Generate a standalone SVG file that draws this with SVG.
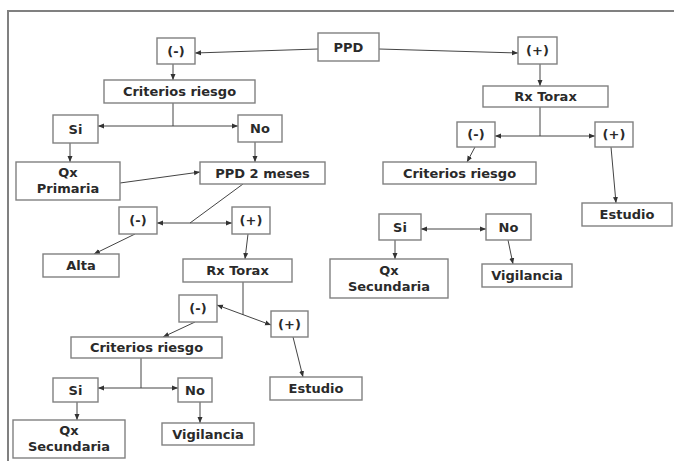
<svg xmlns="http://www.w3.org/2000/svg" width="674" height="461" viewBox="0 0 674 461">
<style>
.b{fill:#fff;stroke:#808080;stroke-width:1.4}
.t{font-family:"DejaVu Sans",sans-serif;font-weight:bold;font-size:13px;fill:#2a2a2a;text-anchor:middle}
.c line{stroke:#444;stroke-width:1}
.fr{stroke:#808080;stroke-width:2;fill:none}
</style>
<defs>
<marker id="a" markerWidth="6" markerHeight="6" refX="6" refY="3" orient="auto-start-reverse" markerUnits="userSpaceOnUse">
<path d="M0,0.5 L6,3 L0,5.5 z" fill="#333"/>
</marker>
</defs>
<rect width="674" height="461" fill="#fff"/>
<path class="fr" d="M8,461 L8,11 L674,11"/>
<g class="c">
<line x1="318" y1="49" x2="195" y2="53" marker-end="url(#a)"/>
<line x1="379" y1="49" x2="518" y2="53" marker-end="url(#a)"/>
<line x1="173" y1="64" x2="173" y2="80" marker-end="url(#a)"/>
<line x1="173" y1="103" x2="173" y2="126"/>
<line x1="98" y1="126" x2="238" y2="126" marker-start="url(#a)" marker-end="url(#a)"/>
<line x1="70" y1="143" x2="70" y2="162" marker-end="url(#a)"/>
<line x1="255" y1="142" x2="255" y2="162" marker-end="url(#a)"/>
<line x1="120" y1="183" x2="200" y2="172" marker-end="url(#a)"/>
<line x1="243" y1="184" x2="190" y2="223"/>
<line x1="157" y1="223" x2="232" y2="223" marker-start="url(#a)" marker-end="url(#a)"/>
<line x1="135" y1="234" x2="94" y2="254" marker-end="url(#a)"/>
<line x1="248" y1="234" x2="245" y2="259" marker-end="url(#a)"/>
<line x1="243" y1="282" x2="243" y2="315"/>
<line x1="217" y1="305" x2="271" y2="325" marker-start="url(#a)" marker-end="url(#a)"/>
<line x1="195" y1="322" x2="163" y2="337" marker-end="url(#a)"/>
<line x1="141" y1="358" x2="141" y2="388"/>
<line x1="98" y1="388" x2="178" y2="388" marker-start="url(#a)" marker-end="url(#a)"/>
<line x1="77" y1="402" x2="77" y2="420" marker-end="url(#a)"/>
<line x1="200" y1="402" x2="200" y2="423" marker-end="url(#a)"/>
<line x1="293" y1="337" x2="303" y2="377" marker-end="url(#a)"/>
<line x1="540" y1="64" x2="540" y2="86" marker-end="url(#a)"/>
<line x1="540" y1="107" x2="540" y2="136"/>
<line x1="495" y1="136" x2="595" y2="136" marker-start="url(#a)" marker-end="url(#a)"/>
<line x1="475" y1="147" x2="467" y2="162" marker-end="url(#a)"/>
<line x1="611" y1="147" x2="616" y2="203" marker-end="url(#a)"/>
<line x1="421" y1="229" x2="486" y2="229" marker-start="url(#a)" marker-end="url(#a)"/>
<line x1="395" y1="240" x2="395" y2="259" marker-end="url(#a)"/>
<line x1="508" y1="240" x2="513" y2="264" marker-end="url(#a)"/>
</g>
<g id="ppd"><rect class="b" x="318" y="33" width="61" height="28"/><text class="t" x="348.5" y="51.5">PPD</text></g>
<g id="negL"><rect class="b" x="157" y="38" width="38" height="26"/><text class="t" x="176" y="55.5">(-)</text></g>
<g id="posR"><rect class="b" x="518" y="37" width="39" height="27"/><text class="t" x="537.5" y="55">(+)</text></g>
<g id="crit1"><rect class="b" x="104" y="80" width="151" height="23"/><text class="t" x="179.5" y="96">Criterios riesgo</text></g>
<g id="si1"><rect class="b" x="53" y="115" width="45" height="28"/><text class="t" x="75.5" y="133.5">Si</text></g>
<g id="no1"><rect class="b" x="238" y="115" width="44" height="27"/><text class="t" x="260" y="133">No</text></g>
<g id="qxp"><rect class="b" x="16" y="162" width="104" height="38"/><text class="t" x="68" y="177">Qx</text><text class="t" x="68" y="193">Primaria</text></g>
<g id="ppd2"><rect class="b" x="200" y="162" width="125" height="22"/><text class="t" x="262.5" y="177.5">PPD 2 meses</text></g>
<g id="neg2"><rect class="b" x="119" y="207" width="38" height="27"/><text class="t" x="138" y="225">(-)</text></g>
<g id="pos2"><rect class="b" x="232" y="207" width="38" height="27"/><text class="t" x="251" y="225">(+)</text></g>
<g id="alta"><rect class="b" x="43" y="254" width="76" height="23"/><text class="t" x="81" y="270">Alta</text></g>
<g id="rx2"><rect class="b" x="183" y="259" width="109" height="23"/><text class="t" x="237.5" y="275">Rx Torax</text></g>
<g id="neg3"><rect class="b" x="179" y="295" width="38" height="27"/><text class="t" x="198" y="313">(-)</text></g>
<g id="pos3"><rect class="b" x="271" y="311" width="37" height="26"/><text class="t" x="289.5" y="328.5">(+)</text></g>
<g id="crit3"><rect class="b" x="71" y="337" width="151" height="21"/><text class="t" x="146.5" y="352">Criterios riesgo</text></g>
<g id="si3"><rect class="b" x="53" y="378" width="45" height="24"/><text class="t" x="75.5" y="394.5">Si</text></g>
<g id="no3"><rect class="b" x="178" y="378" width="34" height="24"/><text class="t" x="195" y="394.5">No</text></g>
<g id="qxs3"><rect class="b" x="13" y="420" width="112" height="38"/><text class="t" x="69" y="435">Qx</text><text class="t" x="69" y="451">Secundaria</text></g>
<g id="vig3"><rect class="b" x="162" y="423" width="92" height="22"/><text class="t" x="208" y="438.5">Vigilancia</text></g>
<g id="est3"><rect class="b" x="270" y="377" width="92" height="23"/><text class="t" x="316" y="393">Estudio</text></g>
<g id="rxR"><rect class="b" x="483" y="86" width="125" height="21"/><text class="t" x="545.5" y="101">Rx Torax</text></g>
<g id="negR"><rect class="b" x="457" y="122" width="38" height="25"/><text class="t" x="476" y="139">(-)</text></g>
<g id="posR2"><rect class="b" x="595" y="122" width="38" height="25"/><text class="t" x="614" y="139">(+)</text></g>
<g id="critR"><rect class="b" x="383" y="162" width="153" height="22"/><text class="t" x="459.5" y="177.5">Criterios riesgo</text></g>
<g id="estR"><rect class="b" x="582" y="203" width="90" height="23"/><text class="t" x="627" y="219">Estudio</text></g>
<g id="siR"><rect class="b" x="379" y="214" width="42" height="26"/><text class="t" x="400" y="231.5">Si</text></g>
<g id="noR"><rect class="b" x="486" y="214" width="45" height="26"/><text class="t" x="508.5" y="231.5">No</text></g>
<g id="qxsR"><rect class="b" x="330" y="259" width="118" height="39"/><text class="t" x="389" y="275">Qx</text><text class="t" x="389" y="291">Secundaria</text></g>
<g id="vigR"><rect class="b" x="482" y="264" width="90" height="23"/><text class="t" x="527" y="280">Vigilancia</text></g>
</svg>
